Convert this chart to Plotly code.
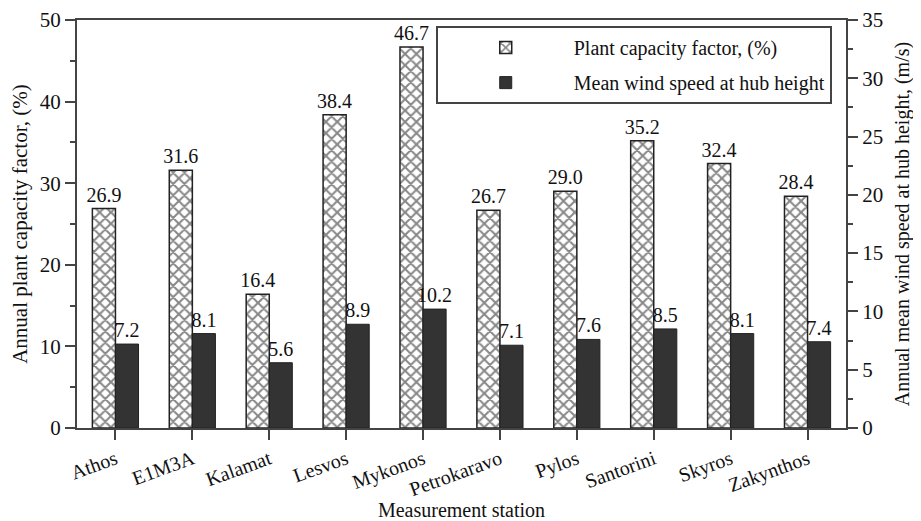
import plotly.graph_objects as go

stations = ["Athos", "E1M3A", "Kalamat", "Lesvos", "Mykonos", "Petrokaravo",
            "Pylos", "Santorini", "Skyros", "Zakynthos"]
capacity_factor = [26.9, 31.6, 16.4, 38.4, 46.7, 26.7, 29.0, 35.2, 32.4, 28.4]
wind_speed = [7.2, 8.1, 5.6, 8.9, 10.2, 7.1, 7.6, 8.5, 8.1, 7.4]

FONT = "Liberation Serif"
AX = "#444444"

fig = go.Figure()
fig.add_trace(go.Bar(
    x=stations, y=capacity_factor, name="Plant capacity factor, (%)",
    width=0.3, offset=-0.3, legendgroup="a",
    marker=dict(color="white", line=dict(color="#222222", width=1.5),
                pattern=dict(shape="x", fgcolor="#111111", bgcolor="white",
                             size=8, solidity=0.45)),
    text=[f"{v:.1f}" for v in capacity_factor], textposition="outside",
    constraintext="none",
    textfont=dict(family=FONT, size=20, color="#111111"), cliponaxis=False,
    yaxis="y",
))
fig.add_trace(go.Bar(
    x=stations, y=wind_speed, name="Mean wind speed at hub height",
    width=0.3, offset=0.0, legendgroup="b",
    marker=dict(color="#333333", line=dict(color="#222222", width=1)),
    text=[f"{v:.1f}" for v in wind_speed], textposition="outside",
    constraintext="none",
    textfont=dict(family=FONT, size=20, color="#111111"), cliponaxis=False,
    yaxis="y2",
))

# page body has an 8px default margin: figure is shrunk/offset accordingly
fig.update_layout(
    width=913, height=513,
    margin=dict(l=69, r=75, t=12, b=93),
    paper_bgcolor="white", plot_bgcolor="white",
    font=dict(family=FONT, size=20, color="#111111"),
    showlegend=True,
    legend=dict(x=0.4665, y=0.985, xanchor="left", yanchor="top",
                bordercolor=AX, borderwidth=2, bgcolor="white",
                font=dict(family=FONT, size=20), itemwidth=126,
                tracegroupgap=6),
    xaxis=dict(range=[-0.5, 9.5], showline=True, linecolor=AX, linewidth=2,
               ticks="outside", ticklen=10, tickcolor=AX, tickwidth=1.5,
               tickangle=-20, tickfont=dict(family=FONT, size=20),
               automargin=False, ticklabeloverflow="allow",
               title=dict(text="Measurement station", standoff=4,
                          font=dict(family=FONT, size=20)),
               mirror=True),
    yaxis=dict(range=[0, 50], dtick=10, showline=True, linecolor=AX,
               linewidth=2, ticks="outside", ticklen=10, tickcolor=AX,
               tickwidth=1.5, showgrid=False, zeroline=False,
               automargin=False, ticklabeloverflow="allow",
               minor=dict(dtick=5, ticks="outside", ticklen=5, tickcolor=AX),
               tickfont=dict(family=FONT, size=21),
               title=dict(text="Annual plant capacity factor, (%)", standoff=6,
                          font=dict(family=FONT, size=21))),
    yaxis2=dict(range=[0, 35], dtick=5, overlaying="y", side="right",
                showline=True, linecolor=AX, linewidth=2, ticks="outside",
                ticklen=10, tickcolor=AX, tickwidth=1.5, showgrid=False,
                zeroline=False, automargin=False, ticklabeloverflow="allow",
                minor=dict(dtick=2.5, ticks="outside", ticklen=5, tickcolor=AX),
                tickfont=dict(family=FONT, size=21),
                title=dict(text="Annual mean wind speed at hub height, (m/s)",
                           standoff=13, font=dict(family=FONT, size=20))),
)

fig.write_html("out.html")
